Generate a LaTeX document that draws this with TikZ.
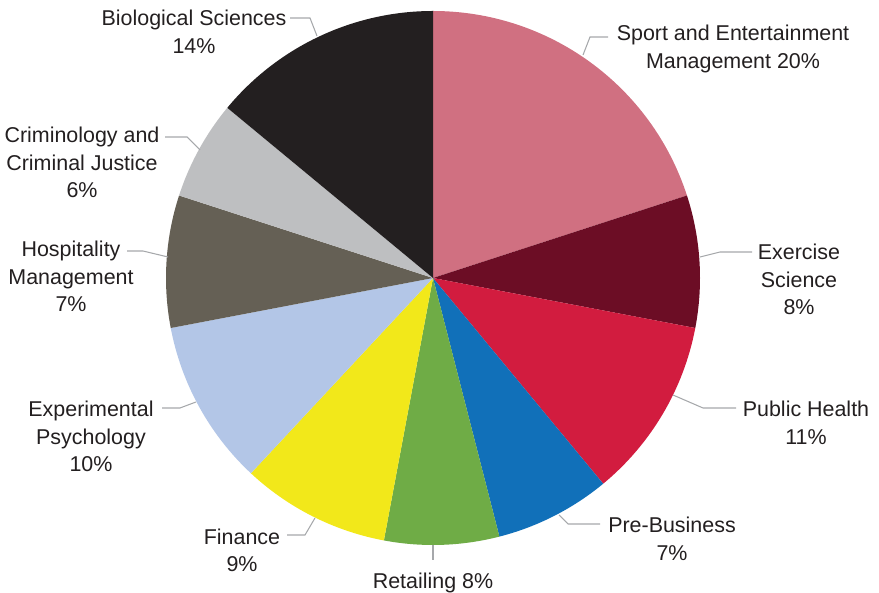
\documentclass[tikz,border=0pt]{standalone}
\usepackage{fontspec}
\setmainfont{Liberation Sans}
\definecolor{sportc}{HTML}{D07081}
\definecolor{exercisec}{HTML}{6C0D25}
\definecolor{healthc}{HTML}{D21C3F}
\definecolor{businessc}{HTML}{1170B9}
\definecolor{retailc}{HTML}{6FAC46}
\definecolor{financec}{HTML}{F2E81A}
\definecolor{psychc}{HTML}{B3C6E7}
\definecolor{hospc}{HTML}{656055}
\definecolor{crimc}{HTML}{BEBFC1}
\definecolor{bioc}{HTML}{231F20}
\definecolor{txtgray}{HTML}{231F20}
\definecolor{leadgray}{HTML}{A6A8AB}
\begin{document}
\begin{tikzpicture}[x=0.03cm,y=0.03cm,
  lbl/.style={align=center,inner sep=0pt,text=txtgray,font=\fontsize{18.3}{23.5}\selectfont},
  leader/.style={draw=leadgray,line width=0.9pt}]
\useasboundingbox (0,0) rectangle (879,592);
\coordinate (c) at (433,314);
% slices, clockwise from the top
\fill [sportc](c) -- ++(90:267) arc (90:18:267) -- cycle;
\fill [exercisec](c) -- ++(18:267) arc (18:-10.8:267) -- cycle;
\fill [healthc](c) -- ++(-10.8:267) arc (-10.8:-50.4:267) -- cycle;
\fill [businessc](c) -- ++(-50.4:267) arc (-50.4:-75.6:267) -- cycle;
\fill [retailc](c) -- ++(-75.6:267) arc (-75.6:-100.6:267) -- cycle;
\fill [financec](c) -- ++(-100.6:267) arc (-100.6:-133:267) -- cycle;
\fill [psychc](c) -- ++(-133:267) arc (-133:-169.2:267) -- cycle;
\fill [hospc](c) -- ++(-169.2:267) arc (-169.2:-198:267) -- cycle;
\fill [crimc](c) -- ++(-198:267) arc (-198:-219.6:267) -- cycle;
\fill [bioc](c) -- ++(-219.6:267) arc (-219.6:-270:267) -- cycle;
% labels
\node [lbl] (sport) at (733,543) {Sport and Entertainment\\Management 20\%};
\node [lbl] (exercise) at (799,312.5) {Exercise\\Science\\8\%};
\node [lbl] (health) at (806,169) {Public Health\\11\%};
\node [lbl] (business) at (672,53) {Pre-Business\\7\%};
\node [lbl] (retail) at (433,9) {Retailing 8\%};
\node [lbl] (finance) at (242,41.5) {Finance\\9\%};
\node [lbl] (psych) at (91,155.5) {Experimental\\Psychology\\10\%};
\node [lbl] (hosp) at (71,315.5) {Hospitality\\Management\\7\%};
\node [lbl] (crim) at (82,429.5) {Criminology and\\Criminal Justice\\6\%};
\node [lbl] (bio) at (194,560) {Biological Sciences\\14\%};
% leader lines
\coordinate (sportA) at (583,537); \coordinate (sportB) at (590,555); \coordinate (sportC) at (608,555);
\coordinate (exerA) at (700,335); \coordinate (exerB) at (720,340); \coordinate (exerC) at (752,340);
\coordinate (healthA) at (673,197); \coordinate (healthB) at (703,184); \coordinate (healthC) at (736,184);
\coordinate (busA) at (559,77); \coordinate (busB) at (568,68); \coordinate (busC) at (600,68);
\coordinate (retA) at (433,47); \coordinate (retB) at (433,32);
\coordinate (finA) at (315,74); \coordinate (finB) at (305,57); \coordinate (finC) at (287,57);
\coordinate (psyA) at (196,190); \coordinate (psyB) at (180,184); \coordinate (psyC) at (162,184);
\coordinate (hospA) at (168,335); \coordinate (hospB) at (143,341); \coordinate (hospC) at (127,341);
\coordinate (crimA) at (200,442); \coordinate (crimB) at (187,455); \coordinate (crimC) at (165,455);
\coordinate (bioA) at (317,556); \coordinate (bioB) at (310,574); \coordinate (bioC) at (290,574);
\draw [leader](sportA) -- (sportB) -- (sportC);
\draw [leader](exerA) -- (exerB) -- (exerC);
\draw [leader](healthA) -- (healthB) -- (healthC);
\draw [leader](busA) -- (busB) -- (busC);
\draw [leader](retA) -- (retB);
\draw [leader](finA) -- (finB) -- (finC);
\draw [leader](psyA) -- (psyB) -- (psyC);
\draw [leader](hospA) -- (hospB) -- (hospC);
\draw [leader](crimA) -- (crimB) -- (crimC);
\draw [leader](bioA) -- (bioB) -- (bioC);
\end{tikzpicture}
\end{document}
